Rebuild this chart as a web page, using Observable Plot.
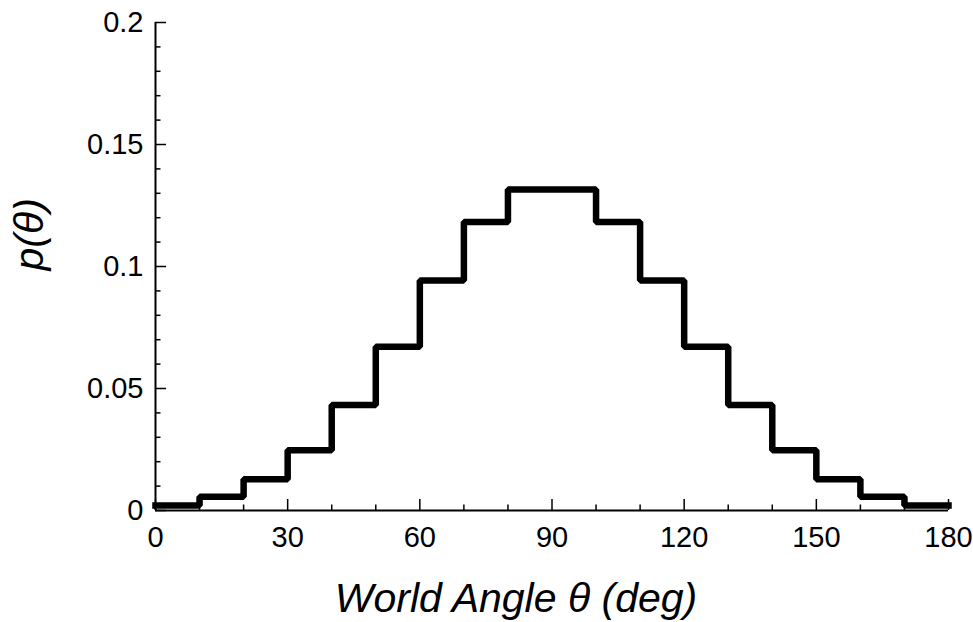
<!DOCTYPE html>
<html>
<head>
<meta charset="utf-8">
<script src="https://cdn.jsdelivr.net/npm/d3@7"></script>
<script src="https://cdn.jsdelivr.net/npm/@observablehq/plot@0.6"></script>
<style>
  html, body { margin: 0; padding: 0; background: #fff; }
  #chart svg { display: block; }
</style>
</head>
<body>
<div id="chart"></div>
<script>
// ---- data ----
const binStart = [0, 10, 20, 30, 40, 50, 60, 70, 80, 90, 100, 110, 120, 130, 140, 150, 160, 170];
const binEnd = 180;
const pValues = [0.0020, 0.0056, 0.0128, 0.0247, 0.0432, 0.0671, 0.0943, 0.1182, 0.1316,
                 0.1316, 0.1182, 0.0943, 0.0671, 0.0432, 0.0247, 0.0128, 0.0056, 0.0020];
const xMajorTicks = [0, 30, 60, 90, 120, 150, 180];
const xMinorTicks = [10, 20, 40, 50, 70, 80, 100, 110, 130, 140, 160, 170];
const yMajorTicks = [0, 0.05, 0.1, 0.15, 0.2];
const yMinorTicks = [0.01, 0.02, 0.03, 0.04, 0.06, 0.07, 0.08, 0.09, 0.11, 0.12, 0.13, 0.14, 0.16, 0.17, 0.18, 0.19];
const xLabel = "World Angle θ (deg)";
const yLabel = "p(θ)";

// step points: each bin start plus the closing edge
const steps = binStart.map((x, i) => ({x, p: pValues[i]}));
steps.push({x: binEnd, p: pValues[pValues.length - 1]});

const W = 973, H = 622;
const mL = 155, mR = 25, mT = 22, mB = 112;
const innerW = W - mL - mR, innerH = H - mT - mB;
const font = "'Liberation Sans', Arial, Helvetica, sans-serif";

const chart = Plot.plot({
  width: W,
  height: H,
  marginLeft: mL,
  marginRight: mR,
  marginTop: mT,
  marginBottom: mB,
  style: {fontFamily: font, background: "#fff", color: "#000", overflow: "visible"},
  x: {domain: [0, 180], axis: null},
  y: {domain: [0, 0.2], axis: null},
  marks: [
    // axis lines
    Plot.ruleX([0], {stroke: "#000", strokeWidth: 2}),
    Plot.ruleY([0], {stroke: "#000", strokeWidth: 2}),
    // inward ticks
    Plot.tickX(xMajorTicks, {x: d => d, insetTop: innerH - 11, stroke: "#000", strokeWidth: 1.5}),
    Plot.tickX(xMinorTicks, {x: d => d, insetTop: innerH - 5.5, stroke: "#000", strokeWidth: 1.5}),
    Plot.tickY(yMajorTicks, {y: d => d, insetRight: innerW - 11, stroke: "#000", strokeWidth: 1.5}),
    Plot.tickY(yMinorTicks, {y: d => d, insetRight: innerW - 5.5, stroke: "#000", strokeWidth: 1.5}),
    // tick labels
    Plot.text(xMajorTicks, {x: d => d, text: d => String(d), frameAnchor: "bottom", lineAnchor: "top",
      dy: 16, fontSize: 29, fill: "#000"}),
    Plot.text(yMajorTicks, {y: d => d, text: d => String(d), frameAnchor: "left", textAnchor: "end",
      dx: -12, fontSize: 29, fill: "#000"}),
    // step histogram
    Plot.line(steps, {x: "x", y: "p", curve: "step-after", stroke: "#000", strokeWidth: 6.5,
      strokeLinecap: "square", strokeLinejoin: "miter"}),
    // axis titles
    Plot.text([xLabel], {text: d => d, frameAnchor: "bottom", lineAnchor: "bottom", dy: 101, dx: -36,
      fontSize: 41, fontStyle: "italic", fill: "#000"}),
    Plot.text([yLabel], {text: d => d, frameAnchor: "left", lineAnchor: "bottom", rotate: -90,
      dx: -113, dy: 4, fontSize: 41, fontStyle: "italic", fill: "#000"})
  ]
});
document.getElementById("chart").appendChild(chart);
</script>
</body>
</html>
